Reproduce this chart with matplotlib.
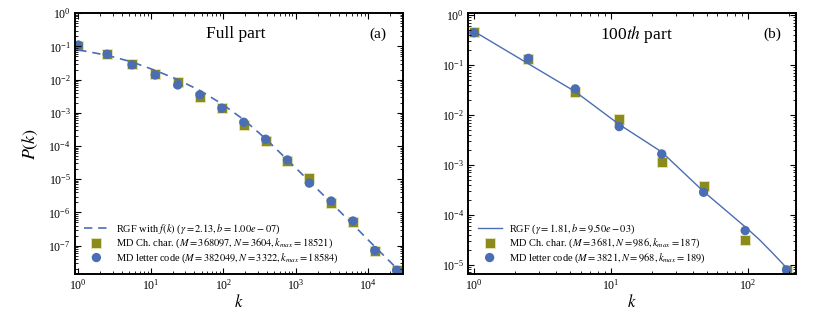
import numpy as np
import matplotlib
matplotlib.use('Agg')
import matplotlib.pyplot as plt

plt.rcParams['font.family'] = 'serif'
plt.rcParams['font.serif'] = ['Liberation Serif', 'DejaVu Serif']
plt.rcParams['mathtext.fontset'] = 'stix'
plt.rcParams['axes.unicode_minus'] = False

# ---- data ----
# (a) full part
k_full = [1, 2.5, 5.5, 11.5, 23.5, 47.5, 95.5, 191.5, 383.5, 767.5,
          1535.5, 3071.5, 6143.5, 12287.5, 24575.5]
p_full_char = [0.100, 0.059, 0.030, 0.0150, 0.0085, 0.0031, 0.00135, 4.4e-4,
               1.4e-4, 3.5e-5, 1.1e-5, 1.9e-6, 5.0e-7, 7.0e-8, 1.8e-8]
p_full_letter = [0.110, 0.058, 0.028, 0.0138, 0.0069, 0.0035, 0.00138, 5.2e-4,
                 1.6e-4, 3.8e-5, 7.6e-6, 2.2e-6, 5.5e-7, 7.1e-8, 1.8e-8]
k_full_fit = [1, 2.5, 5.5, 11.5, 23.5, 47.5, 95.5, 191.5, 383.5, 767.5,
              1535.5, 3071.5, 6143.5, 12287.5, 30000]
p_full_fit = [7.9e-2, 5.4e-2, 3.4e-2, 1.9e-2, 1.0e-2, 4.7e-3, 1.86e-3, 6.2e-4,
              1.66e-4, 3.8e-5, 8.7e-6, 1.95e-6, 4.3e-7, 9.3e-8, 1.35e-8]

# (b) 100th part
k_part = [1, 2.5, 5.5, 11.5, 23.5, 47.5, 95.5, 191.5]
p_part_char = [0.45, 0.13, 0.028, 0.0083, 0.00112, 3.7e-4, 3.1e-5, 7.8e-6]
p_part_letter = [0.44, 0.135, 0.033, 0.0058, 0.00164, 2.8e-4, 4.8e-5, 7.8e-6]
k_part_fit = [1, 2.5, 5.5, 11.5, 23.5, 47.5, 95.5, 120, 150, 200]
p_part_fit = [0.47, 0.105, 0.029, 0.0064, 0.0018, 2.9e-4, 5.7e-5, 3.25e-5,
              1.75e-5, 7.6e-6]

lab_fit_a = r'RGF with $f(k)$ ($\gamma = 2.13, b = 1.00e-07$)'
lab_char_a = r'MD Ch. char. ($M = 368097, N = 3604, k_{max} = 18521$)'
lab_let_a = r'MD letter code ($M = 382049, N = 3322, k_{max} = 18584$)'
lab_fit_b = r'RGF ($\gamma = 1.81, b = 9.50e-03$)'
lab_char_b = r'MD Ch. char. ($M = 3681, N = 986, k_{max} = 187$)'
lab_let_b = r'MD letter code ($M = 3821, N = 968, k_{max} = 189$)'

blue = '#4a6db3'
olive = '#8b8b1c'

fig = plt.figure(figsize=(8.3, 3.23), dpi=100)
ax1 = fig.add_axes([0.0904, 0.152, 0.395, 0.807])
ax2 = fig.add_axes([0.5642, 0.152, 0.395, 0.807])


def style(ax):
    ax.set_xscale('log')
    ax.set_yscale('log')
    ax.tick_params(which='both', direction='in', top=True, right=True,
                   labelsize=8.5, pad=3)
    ax.tick_params(which='major', length=4, width=0.8)
    ax.tick_params(which='minor', length=2, width=0.6)
    for sp in ax.spines.values():
        sp.set_linewidth(1.4)
    ax.set_xlabel(r'$k$', fontsize=12, labelpad=1)


def legend(ax):
    ax.legend(loc='lower left', frameon=False, fontsize=7.5, handlelength=2.3,
              labelspacing=0.08, borderaxespad=0.5, handletextpad=0.7,
              scatterpoints=1)


# ---- panel (a) ----
style(ax1)
ax1.plot(k_full_fit, p_full_fit, '--', color=blue, lw=1.2, dashes=(5, 3.5),
         label=lab_fit_a)
ax1.scatter(k_full, p_full_char, marker='s', s=45, color=olive,
            edgecolors='#e6e6b8', linewidths=0.6, label=lab_char_a)
ax1.scatter(k_full, p_full_letter, marker='o', s=45, color=blue,
            edgecolors='none', label=lab_let_a)
ax1.set_xlim(0.9, 3e4)
ax1.set_ylim(1.4e-8, 1)
ax1.set_ylabel(r'$P(k)$', fontsize=13, labelpad=6)
ax1.text(0.49, 0.92, 'Full part', transform=ax1.transAxes, fontsize=12.5,
         ha='center', va='center')
ax1.text(0.925, 0.92, '(a)', transform=ax1.transAxes, fontsize=11,
         ha='center', va='center')
legend(ax1)

# ---- panel (b) ----
style(ax2)
ax2.plot(k_part_fit, p_part_fit, '-', color=blue, lw=1.0, label=lab_fit_b)
ax2.scatter(k_part, p_part_char, marker='s', s=45, color=olive,
            edgecolors='#e6e6b8', linewidths=0.6, label=lab_char_b)
ax2.scatter(k_part, p_part_letter, marker='o', s=45, color=blue,
            edgecolors='none', label=lab_let_b)
ax2.set_xlim(0.91, 225)
ax2.set_ylim(6.5e-6, 1.08)
ax2.text(0.513, 0.92, r'100$th$ part', transform=ax2.transAxes, fontsize=12.5,
         ha='center', va='center')
ax2.text(0.928, 0.92, '(b)', transform=ax2.transAxes, fontsize=11,
         ha='center', va='center')
legend(ax2)

fig.savefig('out.png', dpi=100)
